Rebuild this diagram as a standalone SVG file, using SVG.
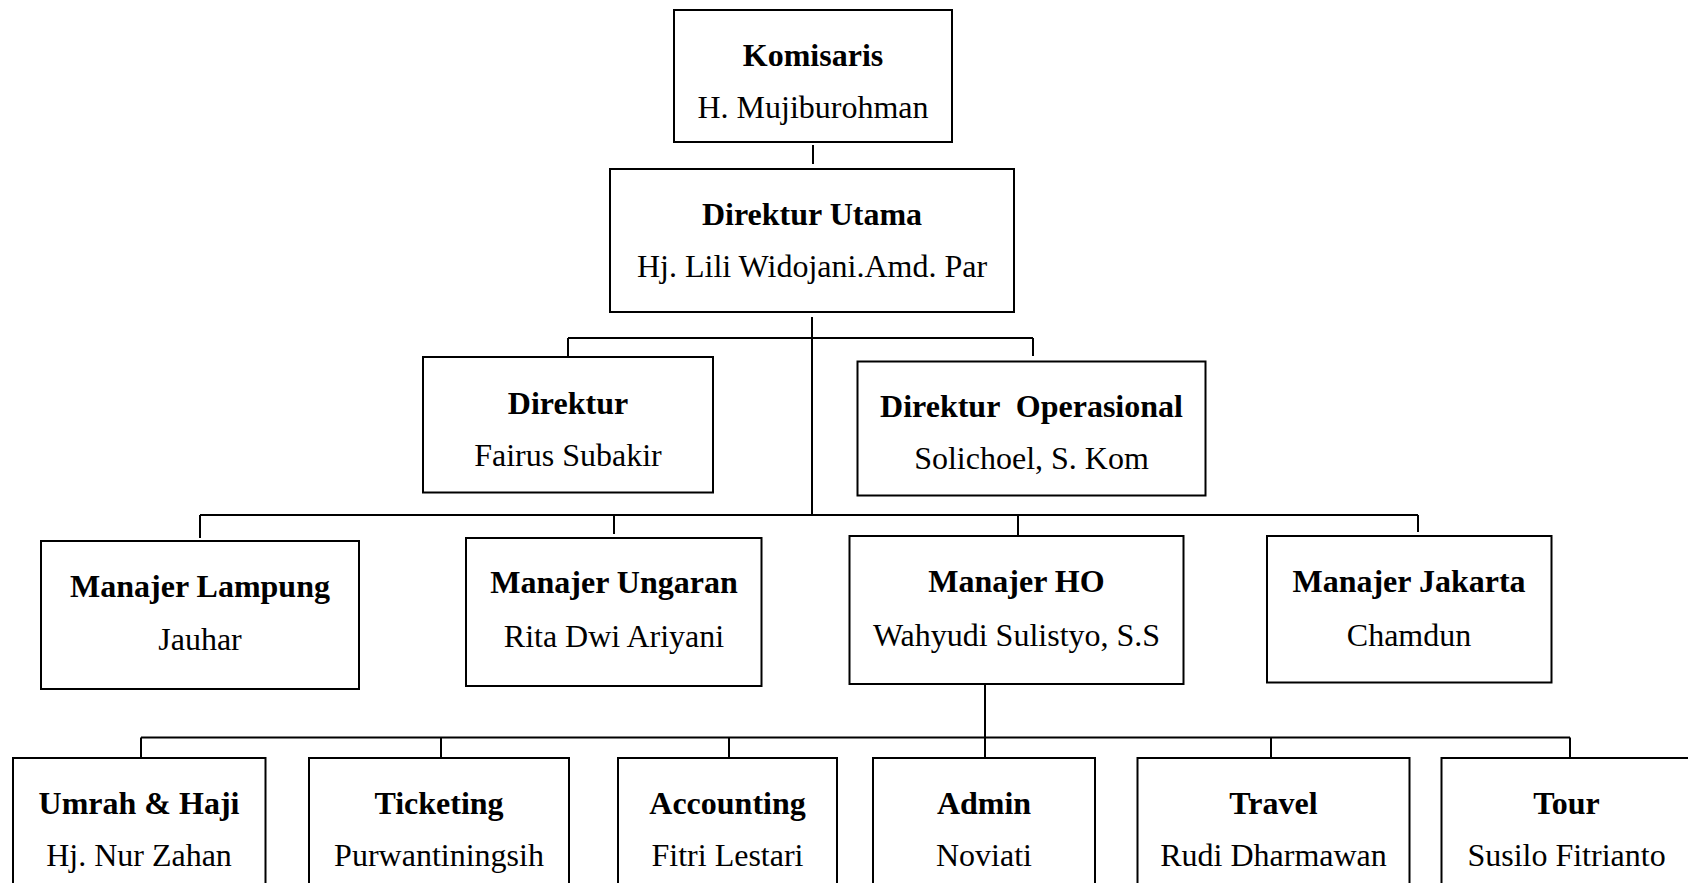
<svg xmlns="http://www.w3.org/2000/svg" width="1688" height="883" viewBox="0 0 1688 883">
<style>
.box{fill:#fff;stroke:#000;stroke-width:2}
.t{font-family:"Liberation Serif","Times New Roman",serif;font-size:32px;text-anchor:middle;fill:#000}
.b{font-weight:bold}
.c line{stroke:#000;stroke-width:2}
</style>
<rect width="1688" height="883" fill="#fff"/>
<g class="c" id="connectors">
<line x1="813" y1="145" x2="813" y2="164"/>
<line x1="812" y1="317" x2="812" y2="516"/>
<line x1="568" y1="338" x2="1033" y2="338"/>
<line x1="568" y1="338" x2="568" y2="357"/>
<line x1="1033" y1="338" x2="1033" y2="356"/>
<line x1="200" y1="515" x2="1418" y2="515"/>
<line x1="200" y1="515" x2="200" y2="538"/>
<line x1="614" y1="515" x2="614" y2="534"/>
<line x1="1018" y1="515" x2="1018" y2="536"/>
<line x1="1418" y1="515" x2="1418" y2="532"/>
<line x1="985" y1="684" x2="985" y2="758"/>
<line x1="141" y1="737.5" x2="1570" y2="737.5"/>
<line x1="141" y1="737.5" x2="141" y2="758"/>
<line x1="441" y1="737.5" x2="441" y2="758"/>
<line x1="729" y1="737.5" x2="729" y2="758"/>
<line x1="1271" y1="737.5" x2="1271" y2="758"/>
<line x1="1570" y1="737.5" x2="1570" y2="758"/>
</g>
<g id="komisaris"><rect class="box" x="674" y="10" width="278" height="132"/>
<text class="t b" x="813" y="66">Komisaris</text><text class="t" x="813" y="118">H. Mujiburohman</text></g>
<g id="direktur-utama"><rect class="box" x="610" y="169" width="404" height="143"/>
<text class="t b" x="812" y="225">Direktur Utama</text><text class="t" x="812" y="277">Hj. Lili Widojani.Amd. Par</text></g>
<g id="direktur"><rect class="box" x="423" y="357" width="290" height="135.5"/>
<text class="t b" x="568" y="414">Direktur</text><text class="t" x="568" y="465.5">Fairus Subakir</text></g>
<g id="direktur-operasional"><rect class="box" x="857.5" y="361.5" width="348" height="134"/>
<text class="t b" x="1031.5" y="417" style="white-space:pre">Direktur  Operasional</text><text class="t" x="1031.5" y="469">Solichoel, S. Kom</text></g>
<g id="manajer-lampung"><rect class="box" x="41" y="541" width="318" height="148"/>
<text class="t b" x="200" y="597">Manajer Lampung</text><text class="t" x="200" y="650">Jauhar</text></g>
<g id="manajer-ungaran"><rect class="box" x="466" y="538" width="295.5" height="148"/>
<text class="t b" x="614" y="593">Manajer Ungaran</text><text class="t" x="614" y="647">Rita Dwi Ariyani</text></g>
<g id="manajer-ho"><rect class="box" x="849.5" y="536" width="334" height="148"/>
<text class="t b" x="1016.5" y="592">Manajer HO</text><text class="t" x="1016.5" y="646">Wahyudi Sulistyo, S.S</text></g>
<g id="manajer-jakarta"><rect class="box" x="1267" y="536" width="284.5" height="146.5"/>
<text class="t b" x="1409" y="592">Manajer Jakarta</text><text class="t" x="1409" y="646">Chamdun</text></g>
<g id="umrah-haji"><rect class="box" x="13" y="758" width="252.5" height="140"/>
<text class="t b" x="139" y="814">Umrah &amp; Haji</text><text class="t" x="139" y="866">Hj. Nur Zahan</text></g>
<g id="ticketing"><rect class="box" x="309" y="758" width="260" height="140"/>
<text class="t b" x="439" y="814">Ticketing</text><text class="t" x="439" y="866">Purwantiningsih</text></g>
<g id="accounting"><rect class="box" x="618" y="758" width="219" height="140"/>
<text class="t b" x="727.5" y="814">Accounting</text><text class="t" x="727.5" y="866">Fitri Lestari</text></g>
<g id="admin"><rect class="box" x="873" y="758" width="222" height="140"/>
<text class="t b" x="984" y="814">Admin</text><text class="t" x="984" y="866">Noviati</text></g>
<g id="travel"><rect class="box" x="1137.5" y="758" width="272" height="140"/>
<text class="t b" x="1273.5" y="814">Travel</text><text class="t" x="1273.5" y="866">Rudi Dharmawan</text></g>
<g id="tour"><rect class="box" x="1441.5" y="758" width="252" height="140"/>
<text class="t b" x="1566.5" y="814">Tour</text><text class="t" x="1566.5" y="866">Susilo Fitrianto</text></g>
</svg>
